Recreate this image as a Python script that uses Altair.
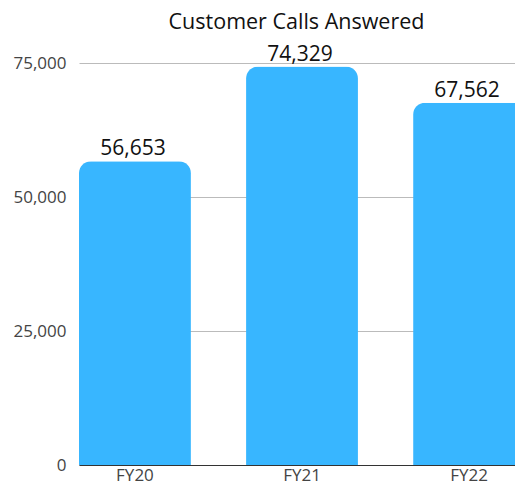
import altair as alt
import pandas as pd

categories = ["FY20", "FY21", "FY22"]
calls = [56653, 74329, 67562]

df = pd.DataFrame({"year": categories, "calls": calls})

base = alt.Chart(df).encode(
    x=alt.X("year:N", sort=categories, title=None,
            scale=alt.Scale(paddingInner=0.33, paddingOuter=0),
            axis=alt.Axis(labelAngle=0, labelFontSize=17, labelColor="#444444",
                          labelFont="Open Sans", ticks=False, labelPadding=2,
                          domainColor="#333333", domainWidth=1)),
    y=alt.Y("calls:Q", title=None,
            scale=alt.Scale(domain=[0, 75000]),
            axis=alt.Axis(values=[0, 25000, 50000, 75000], format=",.0f",
                          labelFontSize=17, labelColor="#444444", labelFont="Open Sans",
                          ticks=False, domain=False, labelPadding=13,
                          gridColor="#bbbbbb", gridWidth=1)),
)

bars = base.mark_bar(color="#38b6ff", cornerRadiusTopLeft=12, cornerRadiusTopRight=12)
labels = base.mark_text(baseline="alphabetic", dy=-6, dx=-2, fontSize=21, font="Open Sans",
                        color="#111111").encode(text=alt.Text("calls:Q", format=",.0f"))

chart = (bars + labels).properties(
    width=446, height=402,
    title=alt.TitleParams("Customer Calls Answered", fontSize=21.5, font="Open Sans",
                          fontWeight="normal", color="#111111", offset=10, dx=-5.5),
    padding={"left": 4, "top": 4, "right": -10, "bottom": 0},
).configure_view(stroke=None)

chart.save("out.html", embed_options={"renderer": "svg", "actions": False})
